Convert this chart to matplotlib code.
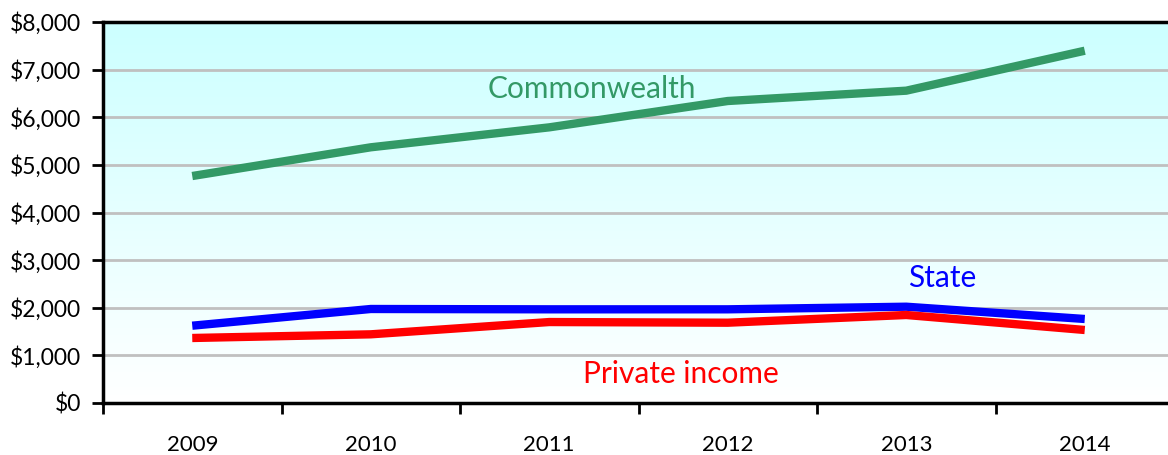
import numpy as np
import matplotlib
matplotlib.use("Agg")
import matplotlib.pyplot as plt
from matplotlib.colors import LinearSegmentedColormap
from matplotlib.ticker import FuncFormatter, FixedLocator

years = ["2009", "2010", "2011", "2012", "2013", "2014"]
commonwealth = [4766, 5369, 5788, 6341, 6558, 7397]
state = [1623, 1974, 1967, 1967, 2022, 1764]
private_income = [1365, 1442, 1700, 1686, 1848, 1533]

plt.rcParams['font.family'] = ['Lato', 'DejaVu Sans']

fig = plt.figure(figsize=(11.68, 4.55), dpi=100)
ax = fig.add_axes([103 / 1168, 52 / 455, 1071 / 1168, 381 / 455])

x = np.arange(len(years))

# gradient background, cyan at the top fading to white
grad = np.linspace(1, 0, 256).reshape(-1, 1)
cmap = LinearSegmentedColormap.from_list("bg", ["#ffffff", "#ccffff"])
ax.imshow(grad, cmap=cmap, aspect="auto", extent=[-0.5, 5.5, 0, 8000],
          origin="upper", zorder=0)
ax.set_xlim(-0.5, 5.5)
ax.set_ylim(0, 8000)

ax.yaxis.grid(True, color="#c0c0c0", linewidth=2, zorder=1)
ax.set_axisbelow(True)
ax.set_yticks(np.arange(0, 8001, 1000))
ax.yaxis.set_major_formatter(FuncFormatter(lambda v, p: f"${int(v):,}"))

ax.plot(x, commonwealth, color="#339966", linewidth=6, zorder=3, solid_capstyle="butt")
ax.plot(x, state, color="#0000ff", linewidth=6, zorder=3, solid_capstyle="butt")
ax.plot(x, private_income, color="#ff0000", linewidth=6, zorder=3, solid_capstyle="butt")

ax.text(2.24, 6590, "Commonwealth", color="#339966", fontsize=21.5, ha="center", va="center")
ax.text(4.2, 2620, "State", color="#0000ff", fontsize=21.5, ha="center", va="center")
ax.text(2.74, 610, "Private income", color="#ff0000", fontsize=21.5, ha="center", va="center")

# ticks at category boundaries, labels at centres
ax.xaxis.set_major_locator(FixedLocator(np.arange(-0.5, 6.0, 1.0)))
ax.xaxis.set_minor_locator(FixedLocator(x))
ax.set_xticklabels([])
ax.set_xticklabels(years, minor=True)
ax.tick_params(axis="x", which="major", direction="out", length=8, width=2, color="black")
ax.tick_params(axis="x", which="minor", length=0, pad=23, labelsize=16)
ax.tick_params(axis="y", direction="out", length=8, width=2, pad=8, labelsize=16.5)

for side in ["left", "bottom", "top"]:
    ax.spines[side].set_linewidth(2.5)
    ax.spines[side].set_color("black")
ax.spines["right"].set_visible(False)

fig.savefig("out.png", dpi=100)
